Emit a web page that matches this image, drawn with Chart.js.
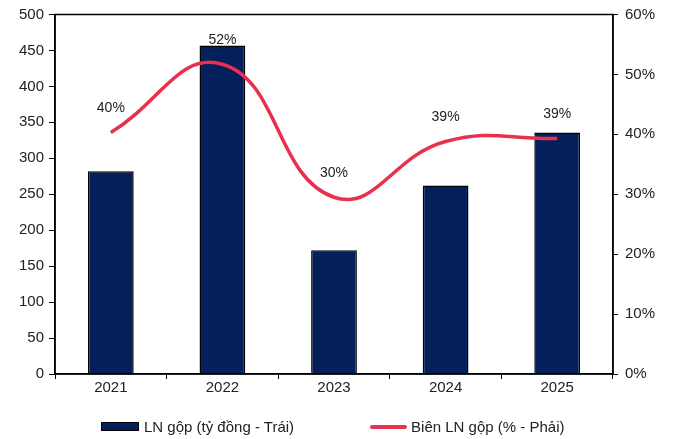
<!DOCTYPE html>
<html>
<head>
<meta charset="utf-8">
<script src="https://cdn.jsdelivr.net/npm/chart.js@4/dist/chart.umd.min.js"></script>
<style>
  html, body { margin: 0; padding: 0; background: #fff; }
  #wrap { position: relative; width: 675px; height: 439px; }
  #legend {
    position: absolute; left: 101px; top: 418px; display: flex; align-items: center;
    font: 15px "Liberation Sans", Arial, sans-serif; color: #222;
  }
  .item { display: flex; align-items: center; }
  .bar { width: 36px; height: 7px; background: #03205b; border: 1px solid #000; margin-right: 5px; }
  .line { width: 37px; height: 4px; background: #e8304f; border-radius: 2px; margin-right: 4px; }
</style>
</head>
<body>
<div id="wrap">
  <canvas id="chart"></canvas>
  <div id="legend">
    <div class="item"><span class="bar"></span><span>LN gộp (tỷ đồng - Trái)</span></div>
    <div class="item" style="margin-left:76px"><span class="line"></span><span>Biên LN gộp (% - Phải)</span></div>
  </div>
</div>
<script>
const years = ['2021', '2022', '2023', '2024', '2025'];
const grossProfit = [282, 457, 172, 262, 336];
const grossMargin = [40.3, 51.7, 29.5, 38.8, 39.3];

const FONT = { family: '"Liberation Sans", Arial, sans-serif', size: 15, lineHeight: 1 };

// frame round the plot area (top and right sides too)
const frame = {
  id: 'frame',
  afterDatasetsDraw(chart) {
    const { ctx, chartArea: a } = chart;
    ctx.save();
    ctx.strokeStyle = '#000';
    ctx.lineWidth = 1.5;
    ctx.strokeRect(a.left, a.top, a.right - a.left, a.bottom - a.top);
    ctx.restore();
  }
};

// percentage labels above the line points
const marginLabels = {
  id: 'marginLabels',
  afterDatasetsDraw(chart) {
    const meta = chart.getDatasetMeta(1);
    const ctx = chart.ctx;
    ctx.save();
    ctx.font = '14px "Liberation Sans", Arial, sans-serif';
    ctx.fillStyle = '#222';
    ctx.textAlign = 'center';
    ctx.textBaseline = 'middle';
    meta.data.forEach((pt, i) => {
      ctx.fillText(Math.round(grossMargin[i]) + '%', pt.x, pt.y - 24);
    });
    ctx.restore();
  }
};

new Chart(document.getElementById('chart'), {
  data: {
    labels: years,
    datasets: [
      {
        type: 'bar',
        label: 'LN gộp (tỷ đồng - Trái)',
        data: grossProfit,
        backgroundColor: '#03205b',
        borderColor: '#000',
        borderWidth: 1.5,
        barPercentage: 0.41,
        categoryPercentage: 1,
        yAxisID: 'y',
        order: 2
      },
      {
        type: 'line',
        label: 'Biên LN gộp (% - Phải)',
        data: grossMargin,
        borderColor: '#e8304f',
        borderWidth: 3.5,
        pointRadius: 0,
        tension: 0.45,
        yAxisID: 'y1',
        order: 1
      }
    ]
  },
  options: {
    responsive: true,
    maintainAspectRatio: false,
    animation: false,
    layout: { padding: { top: 5, right: 13, bottom: 43, left: 14 } },
    plugins: { legend: { display: false }, tooltip: { enabled: false } },
    scales: {
      x: {
        offset: true,
        grid: { offset: true, drawOnChartArea: false, tickLength: 5, color: '#000', lineWidth: 1 },
        border: { color: '#000', width: 1.5 },
        ticks: { font: FONT, color: '#222', padding: 1 }
      },
      y: {
        position: 'left',
        min: 0, max: 500,
        grid: { drawOnChartArea: false, tickLength: 6, color: '#000' },
        border: { color: '#000', width: 1.5 },
        ticks: { stepSize: 50, font: FONT, color: '#222', padding: 5 }
      },
      y1: {
        position: 'right',
        min: 0, max: 60,
        grid: { drawOnChartArea: false, tickLength: 5, color: '#000' },
        border: { color: '#000', width: 1.5 },
        ticks: { stepSize: 10, font: FONT, color: '#222', padding: 7, callback: v => v + '%' }
      }
    }
  },
  plugins: [frame, marginLabels]
});
</script>
</body>
</html>
